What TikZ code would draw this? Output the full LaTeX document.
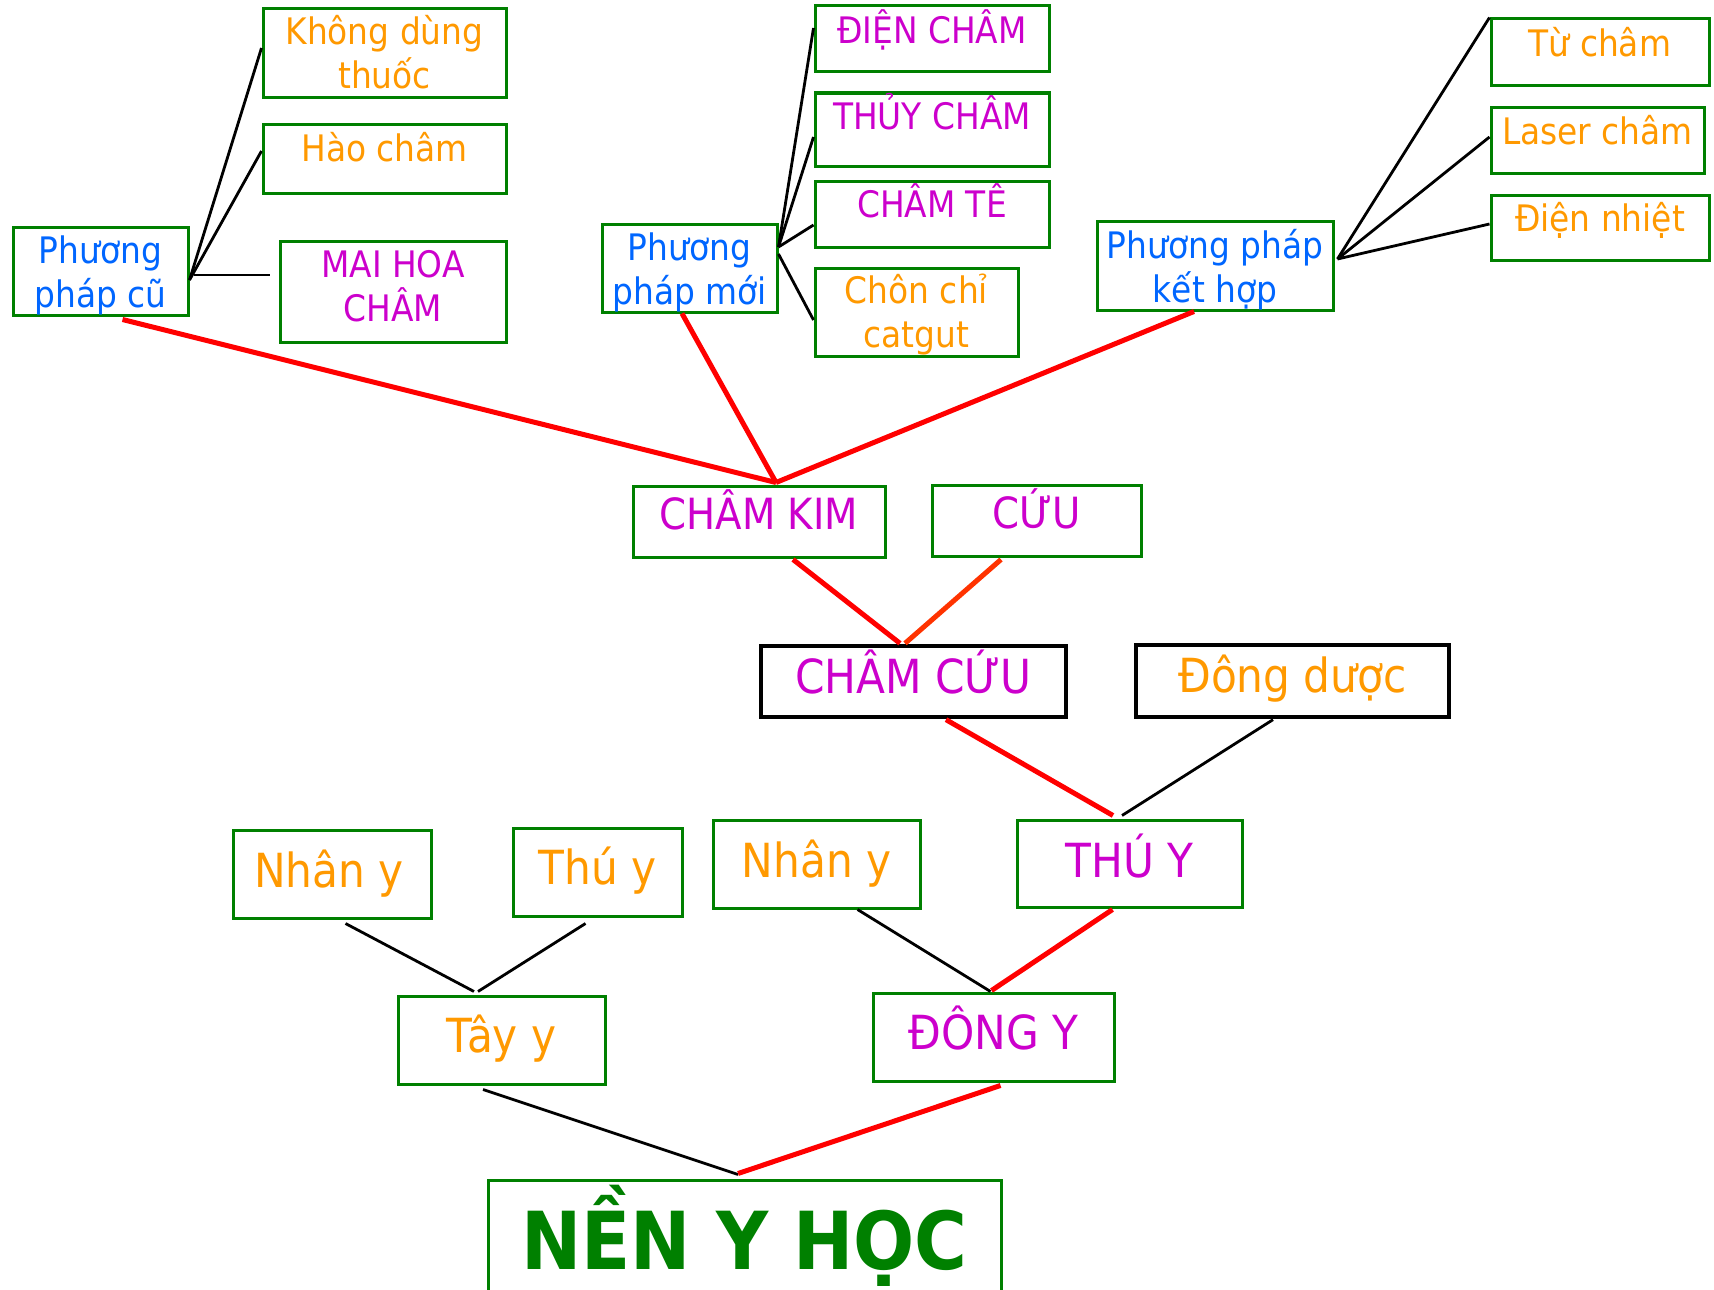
\documentclass[tikz,border=0pt]{standalone}
\usepackage{fontspec}
\setmainfont{DejaVu Sans Condensed}
\definecolor{cGreen}{RGB}{0,128,0}
\definecolor{cOrange}{RGB}{255,153,0}
\definecolor{cMag}{RGB}{204,0,204}
\definecolor{cBlue}{RGB}{0,102,255}
\definecolor{cRed}{RGB}{255,0,0}
\definecolor{cOrRed}{RGB}{255,51,0}
\tikzset{
  gb/.style={draw=cGreen, line width=3pt, inner sep=0pt, fill=white},
  kb/.style={draw=black, line width=3.3pt, inner sep=0pt, fill=white},
  sz/.style args={#1/#2}{minimum width=#1pt, minimum height=#2pt},
  fs/.style={font=\fontsize{36.5}{44}\selectfont},
  fk/.style={font=\fontsize{43}{50}\selectfont},
  fm/.style={font=\fontsize{47}{56}\selectfont},
  one/.style={inner sep=0pt, text depth=0pt},
  ones/.style={one, fs, text height=26.6pt},
  onek/.style={one, fk, text height=31.3pt},
  onem/.style={one, fm, text height=34.3pt},
  two/.style={inner sep=0pt, align=center, fs},
  to/.style={text=cOrange},
  tm/.style={text=cMag},
  tb/.style={text=cBlue},
  rl/.style={draw=cRed, line width=5pt},
  ol/.style={draw=cOrRed, line width=5pt},
  bl/.style={draw=black, line width=2.8pt},
}
\begin{document}
\begin{tikzpicture}[x=1pt, y=-1pt]
\useasboundingbox (0,0) rectangle (1714,1290);
\clip (0,0) rectangle (1714,1290);
\fill[white] (0,0) rectangle (1714,1290);

% boxes
\path
 node[gb, sz=175/88] (ppc) at (100.5,271) {}
 node[gb, sz=243/88] (kdt) at (384.5,53) {}
 node[gb, sz=243/69] (hao) at (384.5,158.5) {}
 node[gb, sz=226/101] (mai) at (393,291.5) {}
 node[gb, sz=175/88] (ppm) at (689.5,268) {}
 node[gb, sz=234/66] (dien) at (932,39) {}
 node[gb, sz=234/73] (thuyc) at (932,129.5) {}
 node[gb, sz=234/66] (chamte) at (932,214) {}
 node[gb, sz=203/88] (chon) at (916.5,312) {}
 node[gb, sz=236/89] (ppkh) at (1215,265.5) {}
 node[gb, sz=218/67] (tu) at (1600,52.5) {}
 node[gb, sz=213/66] (laser) at (1597.5,140) {}
 node[gb, sz=218/65] (dn) at (1600,227.5) {}
 node[gb, sz=252/71] (chamkim) at (759,521.5) {}
 node[gb, sz=209/71] (cuu) at (1036.5,520.5) {}
 node[kb, sz=305/71] (chamcuu) at (913.5,681.5) {}
 node[kb, sz=313/72] (dd) at (1292.5,681) {}
 node[gb, sz=198/88] (nyl) at (332,874) {}
 node[gb, sz=169/88] (thuy) at (597.5,872) {}
 node[gb, sz=207/88] (nym) at (816.5,864) {}
 node[gb, sz=225/87] (thuY) at (1129.5,863.5) {}
 node[gb, sz=207/88] (tay) at (501.5,1040) {}
 node[gb, sz=241/88] (dong) at (993.5,1037) {}
 node[gb, sz=513/200] (nen) at (744.5,1280) {};

% texts
\node[two, to] (kdtT) at ([yshift=1pt]kdt.center) {Không dùng\\thuốc};
\node[ones, to] (haoT) at ([yshift=10pt]hao.center) {Hào châm};
\node[two, tm] (maiT) at ([yshift=5.5pt]mai.center) {MAI HOA\\CHÂM};
\node[two, tb] (ppcT) at ([yshift=-4.5pt]ppc.center) {Phương\\pháp cũ};
\node[two, tb] (ppmT) at ([yshift=-4pt]ppm.center) {Phương\\pháp mới};
\node[ones, tm] (dienT) at ([yshift=9pt]dien.center) {ĐIỆN CHÂM};
\node[ones, tm] (thuycT) at ([yshift=13pt]thuyc.center) {THỦY CHÂM};
\node[ones, tm] (chamteT) at ([yshift=10pt]chamte.center) {CHÂM TÊ};
\node[two, to] (chonT) at ([yshift=-3pt]chon.center) {Chôn chỉ\\catgut};
\node[two, tb] (ppkhT) at ([yshift=-4.5pt]ppkh.center) {Phương pháp\\kết hợp};
\node[ones, to] (tuT) at ([yshift=9pt]tu.center) {Từ châm};
\node[ones, to] (laserT) at ([yshift=8.5pt]laser.center) {Laser châm};
\node[ones, to] (dnT) at ([yshift=9pt]dn.center) {Điện nhiệt};
\node[onek, tm] (chamkimT) at ([yshift=7.5pt]chamkim.center) {CHÂM KIM};
\node[onek, tm] (cuuT) at ([yshift=8pt]cuu.center) {CỨU};
\node[onem, tm] (chamcuuT) at ([yshift=5pt]chamcuu.center) {CHÂM CỨU};
\node[onem, to] (ddT) at ([yshift=6pt]dd.center) {Đông dược};
\node[onem, to] (nylT) at ([xshift=-3pt,yshift=3.5pt]nyl.center) {Nhân y};
\node[onem, to] (thuyT) at ([yshift=5pt]thuy.center) {Thú y};
\node[onem, to] (nymT) at ([yshift=3.5pt]nym.center) {Nhân y};
\node[onem, tm] (thuYT) at ([yshift=3.5pt]thuY.center) {THÚ Y};
\node[onem, to] (tayT) at ([yshift=5pt]tay.center) {Tây y};
\node[onem, tm] (dongT) at ([yshift=4.5pt]dong.center) {ĐÔNG Y};
\node[one, text height=58.3pt, text=cGreen, font=\bfseries\fontsize{80}{90}\selectfont] (nenT) at ([yshift=39.5pt]nen.center) {NỀN Y HỌC};

% connectors
\draw[bl] ([yshift=-9pt]ppc.east) -- ([yshift=5pt]kdt.west);
\draw[bl] ([yshift=-9pt]ppc.east) -- ([yshift=7.5pt]hao.west);
\draw[bl] ([xshift=4pt,yshift=-4pt]ppc.east) -- ([xshift=-9pt,yshift=16.5pt]mai.west);

\draw[bl] ([yshift=21pt]ppm.east) -- ([yshift=11pt]dien.west);
\draw[bl] ([yshift=21pt]ppm.east) -- ([yshift=-7.5pt]thuyc.west);
\draw[bl] ([yshift=21pt]ppm.east) -- ([yshift=-11pt]chamte.west);
\draw[bl] ([yshift=14pt]ppm.east) -- ([yshift=-8pt]chon.west);

\draw[bl] ([xshift=3pt,yshift=6.5pt]ppkh.east) -- (tu.north west);
\draw[bl] ([xshift=3pt,yshift=6.5pt]ppkh.east) -- ([yshift=3pt]laser.west);
\draw[bl] ([xshift=3pt,yshift=6.5pt]ppkh.east) -- ([yshift=3.5pt]dn.west);

\draw[rl] ([xshift=22pt,yshift=-3pt]ppc.south) -- ([xshift=17pt,yshift=2pt]chamkim.north);
\draw[rl] ([xshift=-7.5pt]ppm.south) -- ([xshift=17pt,yshift=2pt]chamkim.north);
\draw[rl] ([xshift=-21pt]ppkh.south) -- ([xshift=17pt,yshift=2pt]chamkim.north);

\draw[rl] ([xshift=34pt,yshift=-1pt]chamkim.south) -- ([xshift=-13.5pt,yshift=1pt]chamcuu.north);
\draw[ol] ([xshift=-35.5pt,yshift=-2pt]cuu.south) -- ([xshift=-8.5pt,yshift=1pt]chamcuu.north);

\draw[rl] ([xshift=32.5pt,yshift=-1pt]chamcuu.south) -- ([xshift=-16.5pt,yshift=3pt]thuY.north);
\draw[bl] ([xshift=-19.5pt,yshift=-1pt]dd.south) -- ([xshift=-7.5pt,yshift=3pt]thuY.north);

\draw[bl] ([xshift=13.5pt,yshift=-4pt]nyl.south) -- ([xshift=-27.5pt,yshift=3pt]tay.north);
\draw[bl] ([xshift=-12pt,yshift=-6pt]thuy.south) -- ([xshift=-23.5pt,yshift=3pt]tay.north);

\draw[bl] ([xshift=41pt]nym.south) -- ([xshift=-3pt]dong.north);
\draw[rl] ([xshift=-17pt,yshift=-1pt]thuY.south) -- ([xshift=-2pt,yshift=1pt]dong.north);

\draw[bl] ([xshift=-18.5pt,yshift=-4pt]tay.south) -- ([xshift=-6.5pt,yshift=4pt]nen.north);
\draw[rl] ([xshift=7pt,yshift=-3pt]dong.south) -- ([xshift=-6.5pt,yshift=5pt]nen.north);
\end{tikzpicture}
\end{document}
